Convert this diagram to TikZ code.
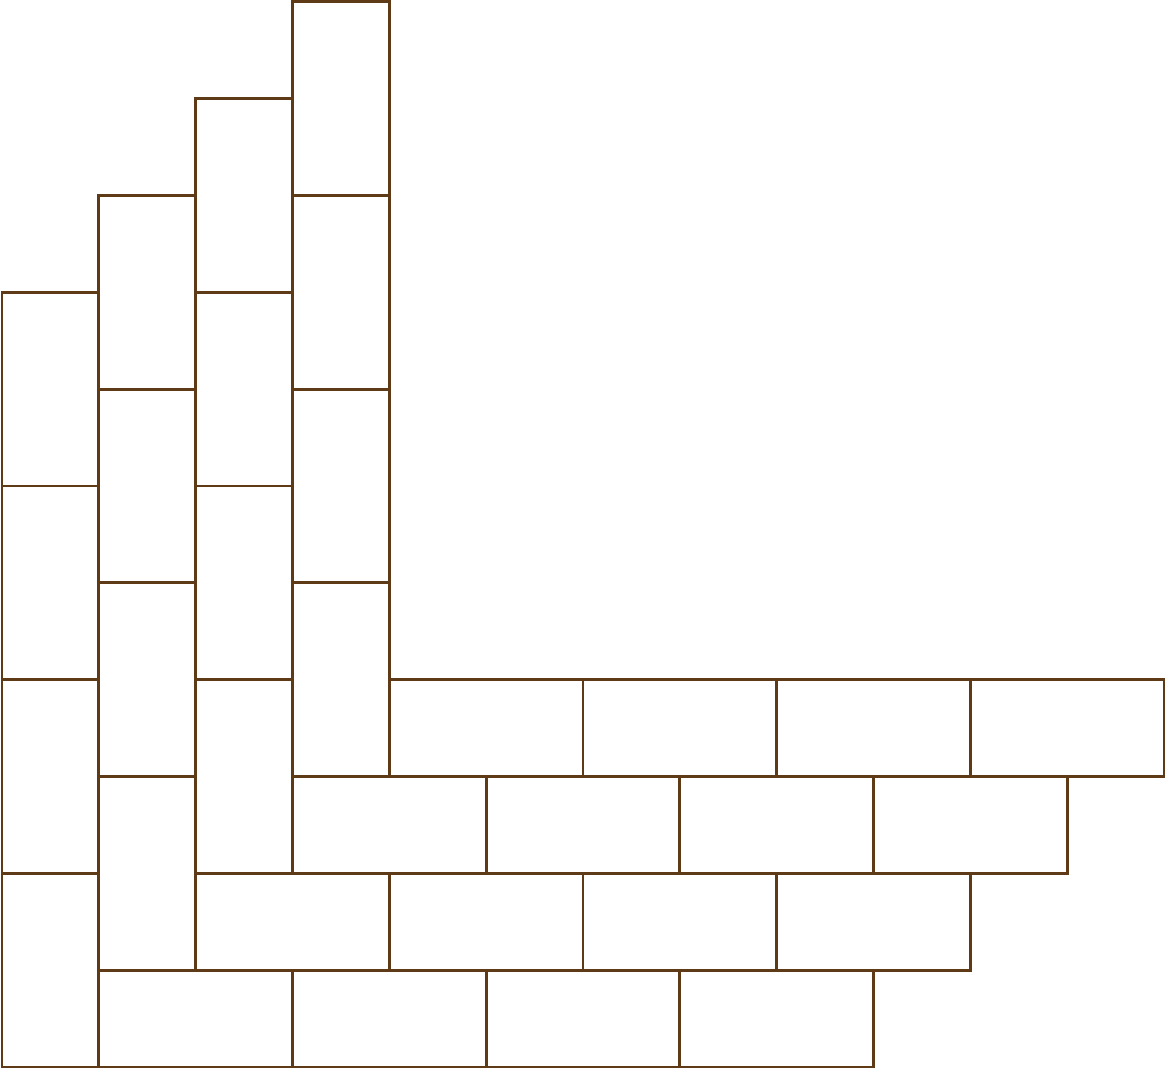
\documentclass[tikz,border=0pt]{standalone}
\definecolor{brick}{HTML}{5E3A17}
\begin{document}
\begin{tikzpicture}[x=1cm,y=1cm,tile/.style={draw=brick,line width=0.85pt,fill=white}]
\useasboundingbox (-0.0207,-0.0207) rectangle (12.0207,11.0193);
% vertical dominoes
\foreach \c in {0,1,2,3}{
  \foreach \k in {0,1,2,3}{
    \pgfmathsetmacro{\yb}{\c+2*\k}
    \draw[tile] (\c,\yb) rectangle ++(1,2);
  }
}
% horizontal dominoes
\foreach \r in {0,1,2,3}{
  \foreach \k in {0,1,2,3}{
    \pgfmathsetmacro{\xb}{\r+1+2*\k}
    \draw[tile] (\xb,\r) rectangle ++(2,1);
  }
}
\end{tikzpicture}
\end{document}
